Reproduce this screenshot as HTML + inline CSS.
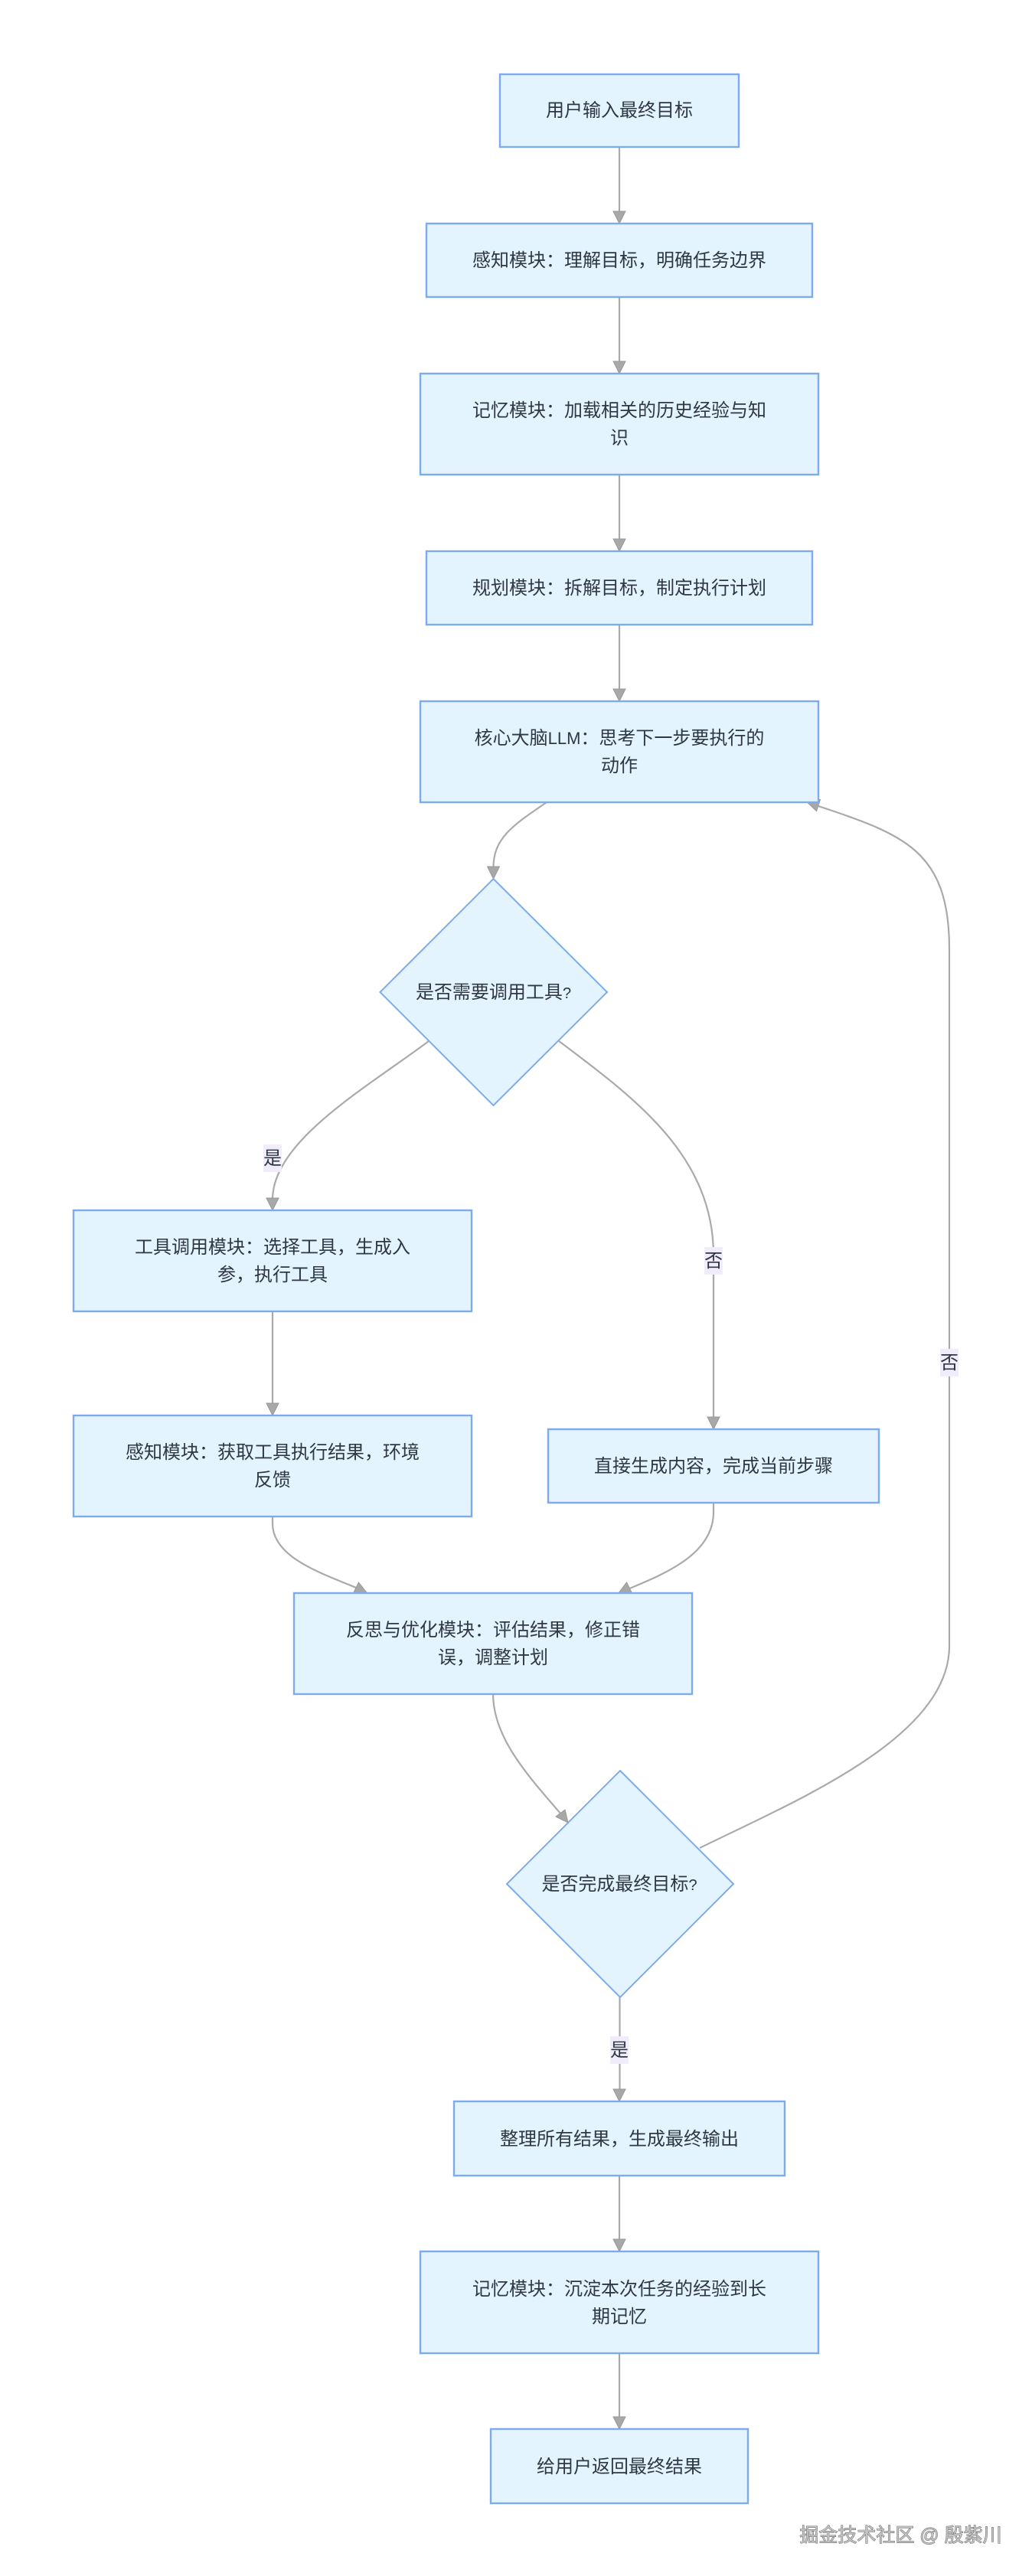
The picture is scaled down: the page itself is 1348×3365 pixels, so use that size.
<!DOCTYPE html>
<html lang="zh"><head><meta charset="utf-8"><title>Flow</title>
<style>
html,body{margin:0;padding:0;background:#fff;width:1348px;height:3365px;overflow:hidden}
svg{display:block}
text{font-family:"Liberation Sans","Noto Sans CJK SC",sans-serif;font-size:24px;fill:#2f3740;text-anchor:middle}
.e{fill:none;stroke:#aaa;stroke-width:2.2}
.h{fill:#a8a8a8;stroke:#999;stroke-width:1}
.n{fill:#e3f4ff;stroke:#7dabec;stroke-width:2.4}
.d{fill:#e3f4ff;stroke:#7dabec;stroke-width:2}
.l{fill:#f1ecfb}
.wm{font-size:25px;fill:#c4c4c4;stroke:#5c5c5c;stroke-width:.9;paint-order:stroke}
</style></head><body>
<svg width="1348" height="3365" viewBox="0 0 1348 3365" xmlns="http://www.w3.org/2000/svg">
<!-- edges -->
<path class="e" d="M809,192V278"/><polygon class="h" points="801,276 817,276 809,292"/>
<path class="e" d="M809,388V474"/><polygon class="h" points="801,472 817,472 809,488"/>
<path class="e" d="M809,620V706"/><polygon class="h" points="801,704 817,704 809,720"/>
<path class="e" d="M809,816V902"/><polygon class="h" points="801,900 817,900 809,916"/>
<path class="e" d="M714,1048C670,1078 644,1095 644.500,1134"/><polygon class="h" points="636.500,1132 652.500,1132 644.500,1148"/>
<path class="e" d="M560,1360C480,1420 356,1490 356,1567"/><polygon class="h" points="348,1565 364,1565 356,1581"/>
<path class="e" d="M730,1360C830,1435 932,1510 932,1640V1853"/><polygon class="h" points="924,1851 940,1851 932,1867"/>
<path class="e" d="M356,1713V1835"/><polygon class="h" points="348,1833 364,1833 356,1849"/>
<path class="e" d="M356,1981V1990C356,2035 420,2055 470,2076"/><polygon class="h" points="468.500,2067 461.600,2081 479.500,2081"/>
<path class="e" d="M932,1963V1975C932,2030 870,2055 820,2076"/><polygon class="h" points="818.500,2067 825.500,2081 808,2081"/>
<path class="e" d="M644,2213C644,2270 690,2320 733,2370"/><polygon class="h" points="738,2364 726,2373 742,2381"/>
<path class="e" d="M809.500,2609V2731"/><polygon class="h" points="801,2729 817,2729 809,2745"/>
<path class="e" d="M809,2842V2927"/><polygon class="h" points="801,2925 817,2925 809,2941"/>
<path class="e" d="M809,3074V3159"/><polygon class="h" points="801,3157 817,3157 809,3173"/>
<path class="e" d="M914,2414C1040,2352 1240,2270 1240,2150V1240C1240,1110 1180,1090 1066,1052"/>
<polygon class="h" points="1071.500,1044.400 1066.500,1059.600 1053.800,1047.500"/>
<!-- nodes -->
<rect class="n" x="653" y="97" width="312" height="95"/>
<rect class="n" x="557" y="292" width="504" height="96"/>
<rect class="n" x="549" y="488" width="520" height="132"/>
<rect class="n" x="557" y="720" width="504" height="96"/>
<rect class="n" x="549" y="916" width="520" height="132"/>
<polygon class="d" points="644.500,1148 793,1296 644.500,1444 496.500,1296"/>
<rect class="n" x="96" y="1581" width="520" height="132"/>
<rect class="n" x="96" y="1849" width="520" height="132"/>
<rect class="n" x="716" y="1867" width="432" height="96"/>
<rect class="n" x="384" y="2081" width="520" height="132"/>
<polygon class="d" points="810,2313 958,2461 810,2609 662,2461"/>
<rect class="n" x="593" y="2745" width="432" height="97"/>
<rect class="n" x="549" y="2941" width="520" height="133"/>
<rect class="n" x="641" y="3173" width="336" height="97"/>
<!-- edge labels -->
<rect class="l" x="344" y="1495" width="24" height="36"/><text x="356" y="1521">是</text>
<rect class="l" x="920" y="1629" width="24" height="36"/><text x="932" y="1655">否</text>
<rect class="l" x="1228" y="1762" width="24" height="36"/><text x="1240" y="1788">否</text>
<rect class="l" x="797" y="2660" width="24" height="36"/><text x="809" y="2686">是</text>
<!-- node text -->
<text x="809" y="152">用户输入最终目标</text>
<text x="809" y="348">感知模块：理解目标，明确任务边界</text>
<text x="809" y="544">记忆模块：加载相关的历史经验与知</text><text x="809" y="580">识</text>
<text x="809" y="776">规划模块：拆解目标，制定执行计划</text>
<text x="809" y="972">核心大脑<tspan font-size="22">LLM</tspan>：思考下一步要执行的</text><text x="809" y="1008">动作</text>
<text x="644.500" y="1304">是否需要调用工具<tspan font-size="20">?</tspan></text>
<text x="356" y="1637">工具调用模块：选择工具，生成入</text><text x="356" y="1673">参，执行工具</text>
<text x="356" y="1905">感知模块：获取工具执行结果，环境</text><text x="356" y="1941">反馈</text>
<text x="932" y="1923">直接生成内容，完成当前步骤</text>
<text x="644" y="2137">反思与优化模块：评估结果，修正错</text><text x="644" y="2173">误，调整计划</text>
<text x="809" y="2469">是否完成最终目标<tspan font-size="20">?</tspan></text>
<text x="809" y="2802">整理所有结果，生成最终输出</text>
<text x="809" y="2998">记忆模块：沉淀本次任务的经验到长</text><text x="809" y="3034">期记忆</text>
<text x="809" y="3230">给用户返回最终结果</text>
<!-- watermark -->
<text class="wm" x="1176.500" y="3320">掘金技术社区 @ 殷紫川</text>
</svg>
</body></html>
